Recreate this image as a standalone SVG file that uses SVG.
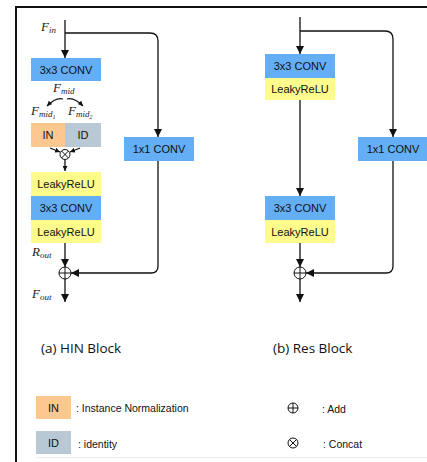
<svg xmlns="http://www.w3.org/2000/svg" width="427" height="462" viewBox="0 0 427 462">
<style>
.bl{fill:#64aef6}.ye{fill:#fdfb8c}.or{fill:#fcc890}.gr{fill:#b8c8d4}
.t{font-family:"Liberation Sans",Arial,sans-serif;font-size:11px;fill:#111;text-anchor:middle;dominant-baseline:central}
.m{font-family:"Liberation Serif","Times New Roman",serif;font-style:italic;font-size:13px;fill:#222}
.s{font-size:9px}
.cap{font-family:"Open Sans","Liberation Sans",sans-serif;font-size:13.5px;fill:#111}
.lg{font-family:"Liberation Sans",Arial,sans-serif;font-size:10.5px;fill:#111;dominant-baseline:central}
.ln{fill:none;stroke:#111;stroke-width:1.3}
.sym{fill:none;stroke:#111;stroke-width:1}
</style>
<defs>
<marker id="ah" viewBox="0 0 8 8" refX="8" refY="4" markerWidth="8" markerHeight="8" markerUnits="userSpaceOnUse" orient="auto">
<path d="M0,0 L8,4 L0,8 Z" fill="#111"/>
</marker>
<marker id="as" viewBox="0 0 8 8" refX="8" refY="4" markerWidth="5" markerHeight="5" markerUnits="userSpaceOnUse" orient="auto">
<path d="M0,0 L8,4 L0,8 Z" fill="#111"/>
</marker>
</defs>
<rect width="427" height="462" fill="#fff"/>
<path d="M16,462 V7 H427" fill="none" stroke="#111" stroke-width="2"/>
<line x1="36" y1="457.5" x2="427" y2="457.5" stroke="#f0f0f0" stroke-width="1"/>

<g id="connectors">
<path class="ln" d="M65,20 V58" marker-end="url(#ah)"/>
<path class="ln" d="M65,33 H150 Q158,33 158,41 V137" marker-end="url(#ah)"/>
<path class="ln" d="M63,99 Q56,97 47,106" marker-end="url(#as)"/>
<path class="ln" d="M67,99 Q74,97 83,106" marker-end="url(#as)"/>
<path class="ln" d="M50,148 L60,152" marker-end="url(#as)"/>
<path class="ln" d="M80,148 L70,152" marker-end="url(#as)"/>
<path class="ln" d="M65,160 V171" marker-end="url(#as)"/>
<path class="ln" d="M65,243 V267" marker-end="url(#ah)"/>
<path class="ln" d="M158,161 V266 Q158,273 151,273 H71" marker-end="url(#ah)"/>
<path class="ln" d="M65,279 V302" marker-end="url(#ah)"/>
<path class="ln" d="M300,17 V54" marker-end="url(#ah)"/>
<path class="ln" d="M300,31 H385 Q393,31 393,39 V137" marker-end="url(#ah)"/>
<path class="ln" d="M300,100 V196" marker-end="url(#ah)"/>
<path class="ln" d="M300,243 V267" marker-end="url(#ah)"/>
<path class="ln" d="M393,161 V266 Q393,273 386,273 H306" marker-end="url(#ah)"/>
<path class="ln" d="M300,279 V302" marker-end="url(#ah)"/>
</g>

<g id="hin-labels">
<text class="m" x="41" y="31">F<tspan class="s" dy="2">in</tspan></text>
<text class="m" x="53" y="92">F<tspan class="s" dy="2">mid</tspan></text>
<text class="m" x="31" y="115">F<tspan class="s" dy="2">mid<tspan font-size="6" dy="1.5">1</tspan></tspan></text>
<text class="m" x="68" y="115">F<tspan class="s" dy="2">mid<tspan font-size="6" dy="1.5">2</tspan></tspan></text>
<text class="m" x="32" y="256">R<tspan class="s" dy="2">out</tspan></text>
<text class="m" x="32" y="298">F<tspan class="s" dy="2">out</tspan></text>
</g>

<g id="hin-conv1"><rect class="bl" x="31" y="58" width="70" height="23"/><text class="t" x="66" y="70">3x3 CONV</text></g>
<g id="hin-in"><rect class="or" x="31" y="123" width="34" height="24"/><text class="t" x="48" y="135">IN</text></g>
<g id="hin-id"><rect class="gr" x="65" y="123" width="36" height="24"/><text class="t" x="83" y="135">ID</text></g>
<g id="hin-concat"><circle class="sym" cx="65" cy="154.5" r="5"/><path class="sym" d="M61.5,151 L68.5,158 M68.5,151 L61.5,158"/></g>
<g id="hin-relu1"><rect class="ye" x="31" y="172" width="70" height="24"/><text class="t" x="66" y="184">LeakyReLU</text></g>
<g id="hin-conv2"><rect class="bl" x="31" y="196" width="70" height="24"/><text class="t" x="66" y="208">3x3 CONV</text></g>
<g id="hin-relu2"><rect class="ye" x="31" y="220" width="70" height="23"/><text class="t" x="66" y="232">LeakyReLU</text></g>
<g id="hin-1x1"><rect class="bl" x="124" y="137" width="70" height="24"/><text class="t" x="159" y="149">1x1 CONV</text></g>
<g id="hin-add"><circle class="sym" cx="65" cy="273" r="6"/><path class="sym" d="M59,273 H71 M65,267 V279"/></g>

<g id="res-conv1"><rect class="bl" x="265" y="54" width="70" height="24"/><text class="t" x="300" y="66">3x3 CONV</text></g>
<g id="res-relu1"><rect class="ye" x="265" y="78" width="70" height="22"/><text class="t" x="300" y="89">LeakyReLU</text></g>
<g id="res-conv2"><rect class="bl" x="265" y="196" width="70" height="24"/><text class="t" x="300" y="208">3x3 CONV</text></g>
<g id="res-relu2"><rect class="ye" x="265" y="220" width="70" height="23"/><text class="t" x="300" y="232">LeakyReLU</text></g>
<g id="res-1x1"><rect class="bl" x="358" y="137" width="70" height="24"/><text class="t" x="393" y="149">1x1 CONV</text></g>
<g id="res-add"><circle class="sym" cx="300" cy="273" r="6"/><path class="sym" d="M294,273 H306 M300,267 V279"/></g>

<g id="captions">
<text class="cap" x="41" y="353">(a) HIN Block</text>
<text class="cap" x="273" y="353">(b) Res Block</text>
</g>

<g id="legend">
<rect class="or" x="36" y="396" width="35" height="23"/><text class="t" x="53.5" y="408" font-size="10">IN</text>
<text class="lg" x="76" y="408">: Instance Normalization</text>
<rect class="gr" x="36" y="431" width="35" height="23"/><text class="t" x="53.5" y="443" font-size="10">ID</text>
<text class="lg" x="78" y="444">: identity</text>
<circle class="sym" cx="293" cy="408" r="5"/><path class="sym" d="M288,408 H298 M293,403 V413"/>
<text class="lg" x="322" y="409">: Add</text>
<circle class="sym" cx="293" cy="443" r="5"/><path class="sym" d="M289.5,439.5 L296.5,446.5 M296.5,439.5 L289.5,446.5"/>
<text class="lg" x="323" y="444">: Concat</text>
</g>
</svg>
